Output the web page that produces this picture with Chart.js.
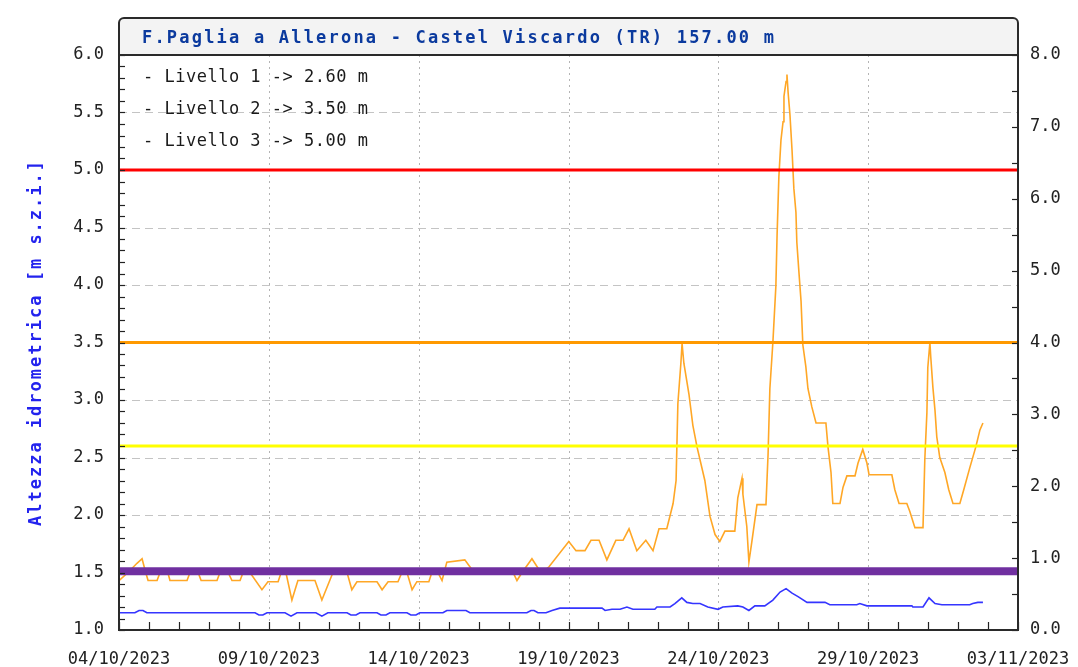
<!DOCTYPE html>
<html><head><meta charset="utf-8">
<script src="https://cdn.jsdelivr.net/npm/chart.js@4.4.0/dist/chart.umd.min.js"></script>
<style>html,body{margin:0;padding:0;background:#fff;} canvas{display:block;}</style>
</head><body>
<canvas id="c" width="1078" height="667"></canvas>
<script>
const chartTitle = 'F.Paglia a Allerona - Castel Viscardo (TR) 157.00 m';
const yAxisTitle = 'Altezza idrometrica [m s.z.i.]';
const xTickLabels = ['04/10/2023','09/10/2023','14/10/2023','19/10/2023','24/10/2023','29/10/2023','03/11/2023'];
const levelNames = ['Livello 1','Livello 2','Livello 3'];
const levelValues = [2.60, 3.50, 5.00];
const zeroLevel = 1.51;

const orangeDays = [0.00,0.30,0.60,0.77,0.87,0.97,1.27,1.37,1.63,1.70,2.27,2.37,2.64,2.74,3.27,3.37,3.64,3.77,4.04,4.14,4.37,4.77,4.97,5.31,5.41,5.57,5.77,5.97,6.54,6.77,7.14,7.61,7.77,7.94,8.61,8.78,8.98,9.31,9.44,9.61,9.78,9.94,10.34,10.44,10.64,10.78,10.94,11.54,11.71,11.85,13.15,13.28,13.45,13.78,13.98,14.11,14.35,15.01,15.25,15.55,15.75,16.02,16.28,16.58,16.82,17.02,17.28,17.58,17.82,18.02,18.28,18.49,18.59,18.65,18.75,18.79,18.85,19.02,19.15,19.29,19.55,19.72,19.89,20.05,20.22,20.55,20.65,20.79,20.82,20.95,21.02,21.12,21.29,21.59,21.66,21.72,21.82,21.92,21.96,22.02,22.09,22.16,22.19,22.26,22.29,22.33,22.39,22.46,22.52,22.59,22.62,22.69,22.76,22.82,22.92,22.99,23.12,23.26,23.59,23.66,23.76,23.82,24.06,24.16,24.29,24.56,24.66,24.82,24.96,25.03,25.79,25.89,26.03,26.29,26.39,26.56,26.83,26.89,26.96,26.99,27.06,27.09,27.16,27.23,27.29,27.39,27.56,27.69,27.83,28.06,28.19,28.39,28.59,28.73,28.83];
const orangeValues = [1.43,1.50,1.58,1.62,1.52,1.43,1.43,1.50,1.50,1.43,1.43,1.50,1.50,1.43,1.43,1.50,1.50,1.43,1.43,1.50,1.50,1.35,1.42,1.42,1.50,1.50,1.26,1.43,1.43,1.26,1.50,1.50,1.35,1.42,1.42,1.35,1.42,1.42,1.50,1.50,1.35,1.42,1.42,1.50,1.50,1.43,1.59,1.61,1.55,1.50,1.50,1.43,1.50,1.62,1.54,1.50,1.55,1.77,1.69,1.69,1.78,1.78,1.61,1.78,1.78,1.88,1.69,1.78,1.69,1.88,1.88,2.10,2.30,2.97,3.32,3.49,3.32,3.05,2.78,2.59,2.30,1.99,1.83,1.77,1.86,1.86,2.15,2.32,2.18,1.90,1.59,1.77,2.09,2.09,2.53,3.10,3.50,3.99,4.43,4.94,5.26,5.42,5.64,5.77,5.83,5.67,5.48,5.17,4.84,4.63,4.37,4.11,3.86,3.48,3.29,3.10,2.94,2.80,2.80,2.59,2.37,2.10,2.10,2.24,2.34,2.34,2.45,2.57,2.45,2.35,2.35,2.22,2.10,2.10,2.03,1.89,1.89,2.48,2.89,3.28,3.50,3.37,3.11,2.91,2.68,2.50,2.37,2.22,2.10,2.10,2.22,2.41,2.59,2.74,2.80];

const blueDays = [0,0.53,0.67,0.80,0.93,4.54,4.67,4.80,4.94,5.54,5.74,5.94,6.57,6.77,6.97,7.61,7.74,7.91,8.04,8.61,8.74,8.91,9.04,9.61,9.74,9.91,10.04,10.81,10.94,11.58,11.71,13.61,13.75,13.85,13.98,14.25,14.45,14.71,16.12,16.22,16.45,16.72,16.95,17.15,17.88,17.95,18.39,18.55,18.78,18.95,19.15,19.39,19.65,19.99,20.15,20.65,20.82,21.02,21.22,21.55,21.82,22.06,22.26,22.46,22.66,22.96,23.56,23.72,24.62,24.72,24.96,26.46,26.49,26.83,27.03,27.23,27.46,28.39,28.49,28.66,28.83];
const blueValues = [1.15,1.15,1.17,1.17,1.15,1.15,1.13,1.13,1.15,1.15,1.12,1.15,1.15,1.12,1.15,1.15,1.13,1.13,1.15,1.15,1.13,1.13,1.15,1.15,1.13,1.13,1.15,1.15,1.17,1.17,1.15,1.15,1.17,1.17,1.15,1.15,1.17,1.19,1.19,1.17,1.18,1.18,1.20,1.18,1.18,1.20,1.20,1.23,1.28,1.24,1.23,1.23,1.20,1.18,1.20,1.21,1.20,1.17,1.21,1.21,1.26,1.33,1.36,1.32,1.29,1.24,1.24,1.22,1.22,1.23,1.21,1.21,1.20,1.20,1.28,1.23,1.22,1.22,1.23,1.24,1.24];

const pts = (xs, ys) => xs.map((d, i) => ({x: d, y: ys[i]}));
const hline = v => [{x: 0, y: v}, {x: 30, y: v}];

const MONO = '"DejaVu Sans Mono", "Liberation Mono", monospace';

const framePlugin = {
  id: 'frame',
  beforeDatasetsDraw(chart) {
    const {ctx, chartArea: a, scales: {x, y}} = chart;
    ctx.save();
    ctx.lineWidth = 1;
    ctx.strokeStyle = '#c4c4c4';
    ctx.setLineDash([8, 5]);
    for (let i = 1; i < 10; i++) {
      const py = Math.round(y.getPixelForValue(1 + i * 0.5)) + 0.5;
      ctx.beginPath(); ctx.moveTo(a.left, py); ctx.lineTo(a.right, py); ctx.stroke();
    }
    ctx.strokeStyle = '#b4b4b4';
    ctx.setLineDash([2, 4]);
    for (let d = 5; d < 30; d += 5) {
      const px = Math.round(x.getPixelForValue(d)) + 0.5;
      ctx.beginPath(); ctx.moveTo(px, a.top); ctx.lineTo(px, a.bottom); ctx.stroke();
    }
    ctx.restore();
  },
  afterDatasetsDraw(chart) {
    const {ctx, chartArea: a, scales: {x, y, y2}} = chart;
    ctx.save();
    ctx.strokeStyle = '#222';
    ctx.lineWidth = 1.2;
    for (let i = 0; i <= 50; i++) {
      const py = Math.round(y.getPixelForValue(1 + i * 0.1)) + 0.5;
      ctx.beginPath(); ctx.moveTo(a.left, py); ctx.lineTo(a.left + 6, py); ctx.stroke();
    }
    for (let i = 0; i <= 16; i++) {
      const py = Math.round(y2.getPixelForValue(i * 0.5)) + 0.5;
      ctx.beginPath(); ctx.moveTo(a.right - 6, py); ctx.lineTo(a.right, py); ctx.stroke();
    }
    for (let d = 0; d <= 30; d++) {
      const px = Math.round(x.getPixelForValue(d)) + 0.5;
      ctx.beginPath(); ctx.moveTo(px, a.bottom - 8); ctx.lineTo(px, a.bottom); ctx.stroke();
    }
    ctx.lineWidth = 2;
    ctx.strokeStyle = '#2a2a2a';
    const top = 18, r = 5;
    ctx.beginPath();
    ctx.moveTo(a.left, a.top);
    ctx.lineTo(a.left, top + r);
    ctx.arcTo(a.left, top, a.left + r, top, r);
    ctx.lineTo(a.right - r, top);
    ctx.arcTo(a.right, top, a.right, top + r, r);
    ctx.lineTo(a.right, a.top);
    ctx.closePath();
    ctx.fillStyle = '#f3f3f3';
    ctx.fill();
    ctx.stroke();
    ctx.beginPath();
    ctx.moveTo(a.left, a.top); ctx.lineTo(a.left, a.bottom); ctx.lineTo(a.right, a.bottom); ctx.lineTo(a.right, a.top);
    ctx.stroke();
    ctx.fillStyle = '#0b3a9e';
    ctx.font = 'bold 17px ' + MONO;
    ctx.letterSpacing = '2.2px';
    ctx.textBaseline = 'middle';
    ctx.textAlign = 'left';
    ctx.fillText(chartTitle, 142, 39);
    ctx.save();
    ctx.translate(37, (a.top + a.bottom) / 2);
    ctx.rotate(-Math.PI / 2);
    ctx.textAlign = 'center';
    ctx.fillStyle = '#2323ee';
    ctx.letterSpacing = '2px';
    ctx.fillText(yAxisTitle, 0, 0);
    ctx.restore();
    ctx.letterSpacing = '0.5px';
    ctx.font = '17px ' + MONO;
    ctx.fillStyle = '#1a1a1a';
    levelNames.forEach((n, i) => {
      ctx.fillText('- ' + n + ' -> ' + levelValues[i].toFixed(2) + ' m', 143, 78 + i * 32);
    });
    ctx.restore();
  }
};

new Chart(document.getElementById('c'), {
  type: 'line',
  data: {
    datasets: [
      {label: 'zero', data: hline(zeroLevel), borderColor: '#7030a0', borderWidth: 8, yAxisID: 'y'},
      {label: levelNames[2], data: hline(levelValues[2]), borderColor: '#ff0000', borderWidth: 3, yAxisID: 'y'},
      {label: levelNames[1], data: hline(levelValues[1]), borderColor: '#ff9900', borderWidth: 3, yAxisID: 'y'},
      {label: levelNames[0], data: hline(levelValues[0]), borderColor: '#ffff00', borderWidth: 3, yAxisID: 'y'},
      {label: 'livello', data: pts(orangeDays, orangeValues), borderColor: '#ffa726', borderWidth: 1.6, yAxisID: 'y'},
      {label: 'blu', data: pts(blueDays, blueValues), borderColor: '#3535ff', borderWidth: 1.6, yAxisID: 'y'}
    ]
  },
  options: {
    responsive: false,
    animation: false,
    devicePixelRatio: 1,
    events: [],
    layout: {padding: {top: 55, left: 0, right: 0, bottom: 0}},
    elements: {point: {radius: 0}, line: {tension: 0, borderCapStyle: 'butt'}},
    plugins: {legend: {display: false}, tooltip: {enabled: false}, title: {display: false}},
    scales: {
      x: {
        type: 'linear', position: 'bottom', min: 0, max: 30,
        grid: {display: false, drawTicks: false}, border: {display: false},
        ticks: {
          stepSize: 1, autoSkip: false, maxRotation: 0, minRotation: 0, padding: 19,
          color: '#222', font: {family: MONO, size: 17},
          callback: v => (Math.round(v) % 5 === 0 ? xTickLabels[Math.round(v) / 5] : '')
        },
        afterFit: s => { s.height = 37; s.paddingLeft = 0; s.paddingRight = 0; }
      },
      y: {
        type: 'linear', position: 'left', min: 1, max: 6,
        grid: {display: false, drawTicks: false}, border: {display: false},
        ticks: {stepSize: 0.5, padding: 15, color: '#222', font: {family: MONO, size: 17}, callback: v => v.toFixed(1)},
        afterFit: s => { s.width = 119; s.paddingTop = 0; s.paddingBottom = 0; }
      },
      y2: {
        type: 'linear', position: 'right', min: 0, max: 8,
        grid: {display: false, drawTicks: false}, border: {display: false},
        ticks: {stepSize: 1, padding: 12, color: '#222', font: {family: MONO, size: 17}, callback: v => v.toFixed(1)},
        afterFit: s => { s.width = 60; s.paddingTop = 0; s.paddingBottom = 0; }
      }
    }
  },
  plugins: [framePlugin]
});
</script>
</body></html>
